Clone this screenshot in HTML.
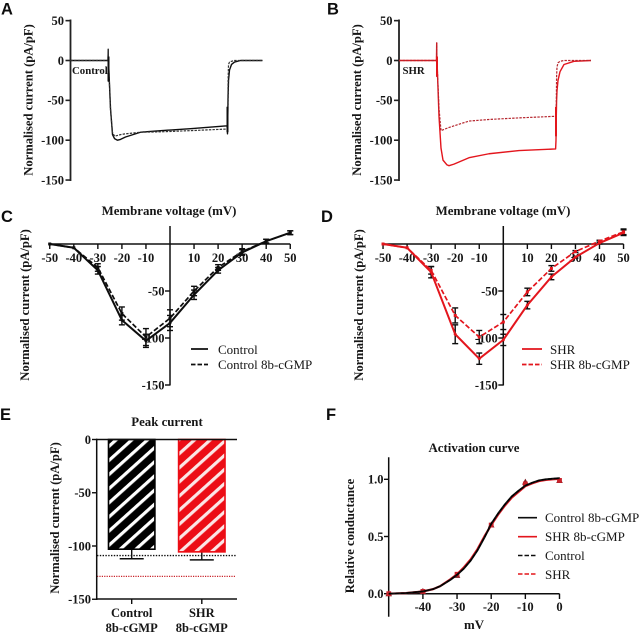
<!DOCTYPE html>
<html lang="en">
<head>
<meta charset="utf-8">
<title>Normalised current figure</title>
<style>
html,body{margin:0;padding:0;background:#fff;width:640px;height:634px;overflow:hidden}
svg{display:block}
text{font-family:"Liberation Serif",serif;fill:#161616}
.b{font-weight:bold}
.letter{font-family:"Liberation Sans",sans-serif;font-weight:bold;font-size:16.5px;fill:#111}
.tick{font-weight:bold;font-size:12.5px}
.title{font-weight:bold;font-size:12.6px}
.head{font-weight:bold;font-size:12.85px}
.leg{font-size:13px}
</style>
</head>
<body>
<svg id="fig" xmlns="http://www.w3.org/2000/svg" width="640" height="634" viewBox="0 0 640 634">
  <defs>
    <filter id="soft" x="-5%" y="-5%" width="110%" height="110%"><feGaussianBlur stdDeviation="0.35"/></filter>
    <pattern id="hatch-black" width="10.5" height="10.5" patternUnits="userSpaceOnUse" patternTransform="rotate(-42)">
      <rect width="10.5" height="10.5" fill="#000"/><rect y="4" width="10.5" height="3.2" fill="#fff"/>
    </pattern>
    <pattern id="hatch-red" width="10.5" height="10.5" patternUnits="userSpaceOnUse" patternTransform="rotate(-42)">
      <rect width="10.5" height="10.5" fill="#ec0a12"/><rect y="4" width="10.5" height="3.2" fill="#fbe6e6"/>
    </pattern>
  </defs>
  <g id="root" filter="url(#soft)">
    <text class="letter" x="1" y="14.5">A</text>
    <text class="letter" x="327" y="14.5">B</text>
    <text class="letter" x="1" y="222">C</text>
    <text class="letter" x="321" y="222">D</text>
    <text class="letter" x="0" y="420">E</text>
    <text class="letter" x="326" y="420">F</text>

    <text class="title" text-anchor="middle" transform="translate(32.5,100) rotate(-90)">Normalised current (pA/pF)</text>
    <text class="title" text-anchor="middle" transform="translate(361,100) rotate(-90)">Normalised current (pA/pF)</text>
    <text class="title" text-anchor="middle" transform="translate(29,305) rotate(-90)">Normalised current (pA/pF)</text>
    <text class="title" text-anchor="middle" transform="translate(363,305) rotate(-90)">Normalised current (pA/pF)</text>
    <text class="title" text-anchor="middle" transform="translate(59,518) rotate(-90)">Normalised current (pA/pF)</text>
    <text class="title" text-anchor="middle" transform="translate(354,536) rotate(-90)">Relative conductance</text>

    <text class="b" font-size="10.8" x="72" y="74">Control</text>
    <text class="b" font-size="10.8" x="402.5" y="74">SHR</text>

    <text class="head" text-anchor="middle" x="169" y="215">Membrane voltage (mV)</text>
    <text class="head" text-anchor="middle" x="503" y="215">Membrane voltage (mV)</text>
    <text class="head" text-anchor="middle" x="167" y="426">Peak current</text>
    <text class="head" text-anchor="middle" x="474" y="452">Activation curve</text>
    <text class="head" text-anchor="middle" x="474" y="629">mV</text>

    <text class="tick" text-anchor="middle" x="131.7" y="617">Control</text>
    <text class="tick" text-anchor="middle" x="131.7" y="632">8b-cGMP</text>
    <text class="tick" text-anchor="middle" x="201.8" y="617">SHR</text>
    <text class="tick" text-anchor="middle" x="201.8" y="632">8b-cGMP</text>

    <text class="leg" x="218" y="354">Control</text>
    <text class="leg" x="218" y="369">Control 8b-cGMP</text>
    <text class="leg" x="550" y="354">SHR</text>
    <text class="leg" x="550" y="369">SHR 8b-cGMP</text>
    <text class="leg" x="545" y="522">Control 8b-cGMP</text>
    <text class="leg" x="545" y="541">SHR 8b-cGMP</text>
    <text class="leg" x="545" y="560">Control</text>
    <text class="leg" x="545" y="579">SHR</text>
  </g>
</svg>
<script>
// Panel A / B current traces (time in sweep units, current in pA/pF)
const traceATime = [0,37.5,37.7,37.9,38.1,38.3,40,42,44,47,50,55,70,90,120,156.6,157,157.3,157.6,158,159,161,164,170,192];
const traceAControl = [0,0,14,-26,-6,-10,-60,-93,-98,-100,-99,-96,-90,-88,-85.5,-82,-92,-70,-45,-25,-12,-5,-2,0,0];
const traceAControl8b = [0,0,14,-26,-6,-10,-62,-90,-95,-94,-93,-92,-90,-89.5,-88,-86,-88,-60,-25,-5,-2,-1,0,0,0];
const traceBTime = [0,37.5,37.7,37.9,38.1,38.3,40,42,44,48,50,55,70,90,120,156.6,157,157.3,157.6,158,159,161,165,175,192];
const traceBShr = [0,0,22,-20,-4,-10,-70,-110,-125,-131,-132,-130,-122,-117,-113,-111,-100,-70,-50,-38,-25,-14,-5,-1,0];
const traceBShr8b = [0,0,22,-20,-4,-10,-60,-88,-87,-85,-84,-82,-76,-74,-72,-70,-95,-50,-20,-8,-3,-1,0,0,0];
// Capacitive artefacts: time, upper and lower current of the thick vertical transients
const spikeTime = [38,157];
const spikeAHigh = [5,-58];
const spikeALow = [-26,-90];
const spikeBHigh = [5,-58];
const spikeBLow = [-20,-95];

// Panels C / D current-voltage data
const ivVoltage = [-50,-40,-30,-20,-10,0,10,20,30,40,50];
const ivControl = [0,-4,-28,-81,-103,-84,-54,-28,-9,3,12];
const ivControlErr = [0,0,4,5,7,8,5,3,3,2,2];
const ivControl8b = [0,-4,-25,-74,-99,-79,-50,-25,-8,3,12];
const ivControl8bErr = [0,0,4,7,9,9,5,3,3,2,2];
const ivShr = [0,-4,-30,-96,-122,-102,-65,-35,-14,1,12];
const ivShrErr = [0,0,6,10,6,6,4,3,1,1,3];
const ivShr8b = [0,-4,-28,-76,-99,-83,-51,-26,-8,3,13];
const ivShr8bErr = [0,0,4,8,7,8,4,3,1,1,3];

// Panel E peak current
const barCategories = ['control-8b-cgmp','shr-8b-cgmp'];
const barValues = [-103,-105.5];
const barErrors = [9,7.5];
const refControlPeak = -109;
const refShrPeak = -128.5;

// Panel F activation curve
const activationVoltage = [-50,-45,-40,-37,-35,-32,-30,-28,-26,-24,-22,-20,-18,-16,-14,-12,-10,-8,-6,-4,-2,0];
const activationControl8b = [0,.005,.02,.04,.065,.12,.165,.22,.29,.38,.49,.61,.70,.78,.85,.90,.945,.97,.99,1,1.005,1.01];
const activationShr8b = [0,.005,.02,.04,.065,.125,.17,.23,.30,.39,.50,.60,.69,.77,.84,.89,.94,.965,.985,.995,1.0,1.005];
const activationPointsV = [-50,-40,-30,-20,-10,0];
const activationControlPts = [0,.02,.16,.60,.975,.99];
const activationShrPts = [0,.02,.17,.60,.96,.99];

// Tick labels
const traceTicks = [50,0,-50,-100,-150];
const ivXTicks = [-50,-40,-30,-20,-10,10,20,30,40,50];
const ivYTicks = [-50,-100,-150];
const barTicks = [0,-50,-100,-150];
const activationXTicks = [-40,-30,-20,-10,0];
const activationYTicks = ['0.0','0.5','1.0'];

const NS = 'http://www.w3.org/2000/svg';
const root = document.getElementById('root');
const BLACK = '#111', RED = '#e3131d', DARKRED = '#b5272f';

function add(tag, attrs, name) {
  const el = document.createElementNS(NS, tag);
  for (const k in attrs) el.setAttribute(k, attrs[k]);
  
  
  root.appendChild(el);
  return el;
}
function line(x1, y1, x2, y2, stroke, w, name, dash) {
  const a = {x1, y1, x2, y2, stroke, 'stroke-width': w};
  if (dash) a['stroke-dasharray'] = dash;
  return add('line', a, name);
}
function poly(xs, ys, fx, fy, stroke, w, name, dash) {
  const pts = xs.map((x, i) => fx(x).toFixed(2) + ',' + fy(ys[i]).toFixed(2)).join(' ');
  const a = {points: pts, fill: 'none', stroke, 'stroke-width': w, 'stroke-linejoin': 'round'};
  if (dash) a['stroke-dasharray'] = dash;
  return add('polyline', a, name);
}
function label(x, y, str, anchor, name) {
  const t = add('text', {x, y, 'text-anchor': anchor, class: 'tick'}, name);
  t.textContent = str;
  return t;
}

/* ---------- Panels A and B ---------- */
function tracePanel(key, x0, time, solid, dashed, spikeHigh, spikeLow, colSolid, colDash) {
  const fx = t => x0 + t;
  const fy = v => 60.5 - v * 0.797;
  line(x0, 19.5, x0, 181, '#222', 1.8, key + '-y-axis');
  traceTicks.forEach(v => {
    line(x0 - 5, fy(v), x0, fy(v), '#222', 1.6, key + '-y-tick');
    label(x0 - 6.5, fy(v) + 4.3, String(v), 'end', key + '-y-tick-label');
  });
  poly(time, solid, fx, fy, colSolid, 1.4, key + '-solid-trace');
  poly(time, dashed, fx, fy, colDash, 1.2, key + '-dashed-trace', '2.4 1.2');
  spikeTime.forEach((t, i) => {
    line(fx(t), fy(spikeHigh[i]), fx(t), fy(spikeLow[i]), colSolid, 2, key + '-transient');
  });
}
tracePanel('panel-a', 70.5, traceATime, traceAControl, traceAControl8b, spikeAHigh, spikeALow, BLACK, '#333');
tracePanel('panel-b', 399, traceBTime, traceBShr, traceBShr8b, spikeBHigh, spikeBLow, RED, DARKRED);

/* ---------- Panels C and D ---------- */
function ivPanel(key, x0, solid, solidErr, dashed, dashedErr, col) {
  const fx = v => x0 + v * 2.405;
  const fy = v => 244 - v * 0.94;
  line(fx(-50), fy(0), fx(50), fy(0), '#111', 1.5, key + '-x-axis');
  line(x0, 226, x0, 385.5, '#111', 1.5, key + '-y-axis');
  ivXTicks.forEach(v => {
    line(fx(v), 244, fx(v), 249, '#111', 1.4, key + '-x-tick');
    label(fx(v), 262, String(v), 'middle', key + '-x-tick-label');
  });
  ivYTicks.forEach(v => {
    line(x0 - 5, fy(v), x0, fy(v), '#111', 1.4, key + '-y-tick');
    label(x0 - 5.5, fy(v) + 4.3, String(v), 'end', key + '-y-tick-label');
  });
  const errs = (vals, err, name) => ivVoltage.forEach((v, i) => {
    if (!err[i]) return;
    const x = fx(v), a = fy(vals[i] + err[i]), b = fy(vals[i] - err[i]);
    line(x, a, x, b, '#111', 1.4, name + '-error-bar');
    line(x - 3, a, x + 3, a, '#111', 1.4, name + '-error-cap');
    line(x - 3, b, x + 3, b, '#111', 1.4, name + '-error-cap');
  });
  errs(solid, solidErr, key + '-solid');
  errs(dashed, dashedErr, key + '-dashed');
  poly(ivVoltage, solid, fx, fy, col, 2, key + '-solid-line');
  poly(ivVoltage, dashed, fx, fy, col, 1.7, key + '-dashed-line', '5 2.2');
  ivVoltage.forEach((v, i) => {
    add('circle', {cx: fx(v), cy: fy(solid[i]), r: 1.5, fill: col}, key + '-solid-point');
    add('rect', {x: fx(v) - 1.5, y: fy(dashed[i]) - 1.5, width: 3, height: 3, fill: col}, key + '-dashed-point');
  });
}
ivPanel('panel-c', 170, ivControl, ivControlErr, ivControl8b, ivControl8bErr, BLACK);
ivPanel('panel-d', 503.3, ivShr, ivShrErr, ivShr8b, ivShr8bErr, RED);
line(191, 349, 208, 349, BLACK, 1.8, 'legend-c-solid-swatch');
line(191, 364.5, 208, 364.5, BLACK, 1.7, 'legend-c-dashed-swatch', '4.5 2');
line(522, 349, 542, 349, RED, 1.8, 'legend-d-solid-swatch');
line(522, 364.5, 542, 364.5, RED, 1.7, 'legend-d-dashed-swatch', '4.5 2');

/* ---------- Panel E ---------- */
(function () {
  const fy = v => 439.5 - v * 1.065;
  const centers = [131.7, 201.8];
  const fills = ['url(#hatch-black)', 'url(#hatch-red)'];
  const strokes = ['#000', '#ec0a12'];
  barCategories.forEach((c, i) => {
    const x = centers[i];
    const end = barValues[i] - barErrors[i];
    line(x, fy(barValues[i]), x, fy(end), '#111', 1.4, 'error-bar-' + c);
    line(x - 12, fy(end), x + 12, fy(end), '#111', 1.5, 'error-cap-' + c);
    add('rect', {x: x - 23.2, y: fy(0), width: 46.4, height: fy(barValues[i]) - fy(0),
      fill: fills[i], stroke: strokes[i], 'stroke-width': 1.6}, 'bar-' + c);
    line(x, 599, x, 604, '#111', 1.4, 'x-tick-' + c);
  });
  line(97, fy(refControlPeak), 236, fy(refControlPeak), '#111', 1.3, 'control-peak-reference-line', '1.4 1.4');
  line(97, fy(refShrPeak), 236, fy(refShrPeak), '#c8242c', 1.2, 'shr-peak-reference-line', '1.2 1.2');
  line(96.7, 438.7, 96.7, 600, '#111', 1.5, 'panel-e-y-axis');
  line(96, fy(0), 237, fy(0), '#111', 1.5, 'panel-e-top-axis');
  line(96, 599, 237, 599, '#111', 1.5, 'panel-e-bottom-axis');
  barTicks.forEach(v => {
    line(92, fy(v), 96.7, fy(v), '#111', 1.4, 'panel-e-y-tick');
    label(91, fy(v) + 4.3, String(v), 'end', 'panel-e-y-tick-label');
  });
})();

/* ---------- Panel F ---------- */
(function () {
  const fx = v => 559.5 + v * 3.415;
  const fy = v => 593.7 - v * 114.4;
  line(388.7, 457.3, 388.7, 616.7, '#111', 1.5, 'panel-f-y-axis');
  line(388.7, fy(0), fx(0), fy(0), '#111', 1.5, 'panel-f-x-axis');
  activationXTicks.forEach(v => {
    line(fx(v), 593.7, fx(v), 599, '#111', 1.4, 'panel-f-x-tick');
    label(fx(v), 611, String(v), 'middle', 'panel-f-x-tick-label');
  });
  activationYTicks.forEach(s => {
    const v = parseFloat(s);
    line(384, fy(v), 388.7, fy(v), '#111', 1.4, 'panel-f-y-tick');
    label(383.5, fy(v) + 4.3, s, 'end', 'panel-f-y-tick-label');
  });
  activationPointsV.forEach((v, i) => {
    const x = fx(v), y = fy(activationControlPts[i]);
    add('polygon', {points: [x, y - 3.5, x + 3.3, y + 2.5, x - 3.3, y + 2.5].join(' '), fill: '#7a1a20'}, 'control-activation-point');
    const y2 = fy(activationShrPts[i]);
    add('rect', {x: x - 2.4, y: y2 - 2.4, width: 4.8, height: 4.8, fill: '#c8202a'}, 'shr-activation-point');
  });
  poly(activationVoltage, activationShr8b, fx, fy, RED, 2.2, 'shr-8b-cgmp-curve');
  poly(activationVoltage, activationShr8b, fx, fy, '#c8202a', 1.4, 'shr-curve', '4 2');
  poly(activationVoltage, activationControl8b, fx, fy, BLACK, 1.9, 'control-8b-cgmp-curve');
  poly(activationVoltage, activationControl8b, fx, fy, '#000', 1.4, 'control-curve', '4 2');
  line(518, 517.7, 537, 517.7, BLACK, 1.6, 'legend-f-control-8b-swatch');
  line(518, 536.7, 537, 536.7, RED, 1.6, 'legend-f-shr-8b-swatch');
  line(518, 555.5, 537, 555.5, BLACK, 1.6, 'legend-f-control-swatch', '4.5 2');
  line(518, 574, 537, 574, RED, 1.6, 'legend-f-shr-swatch', '4.5 2');
})();
</script>
</body>
</html>
